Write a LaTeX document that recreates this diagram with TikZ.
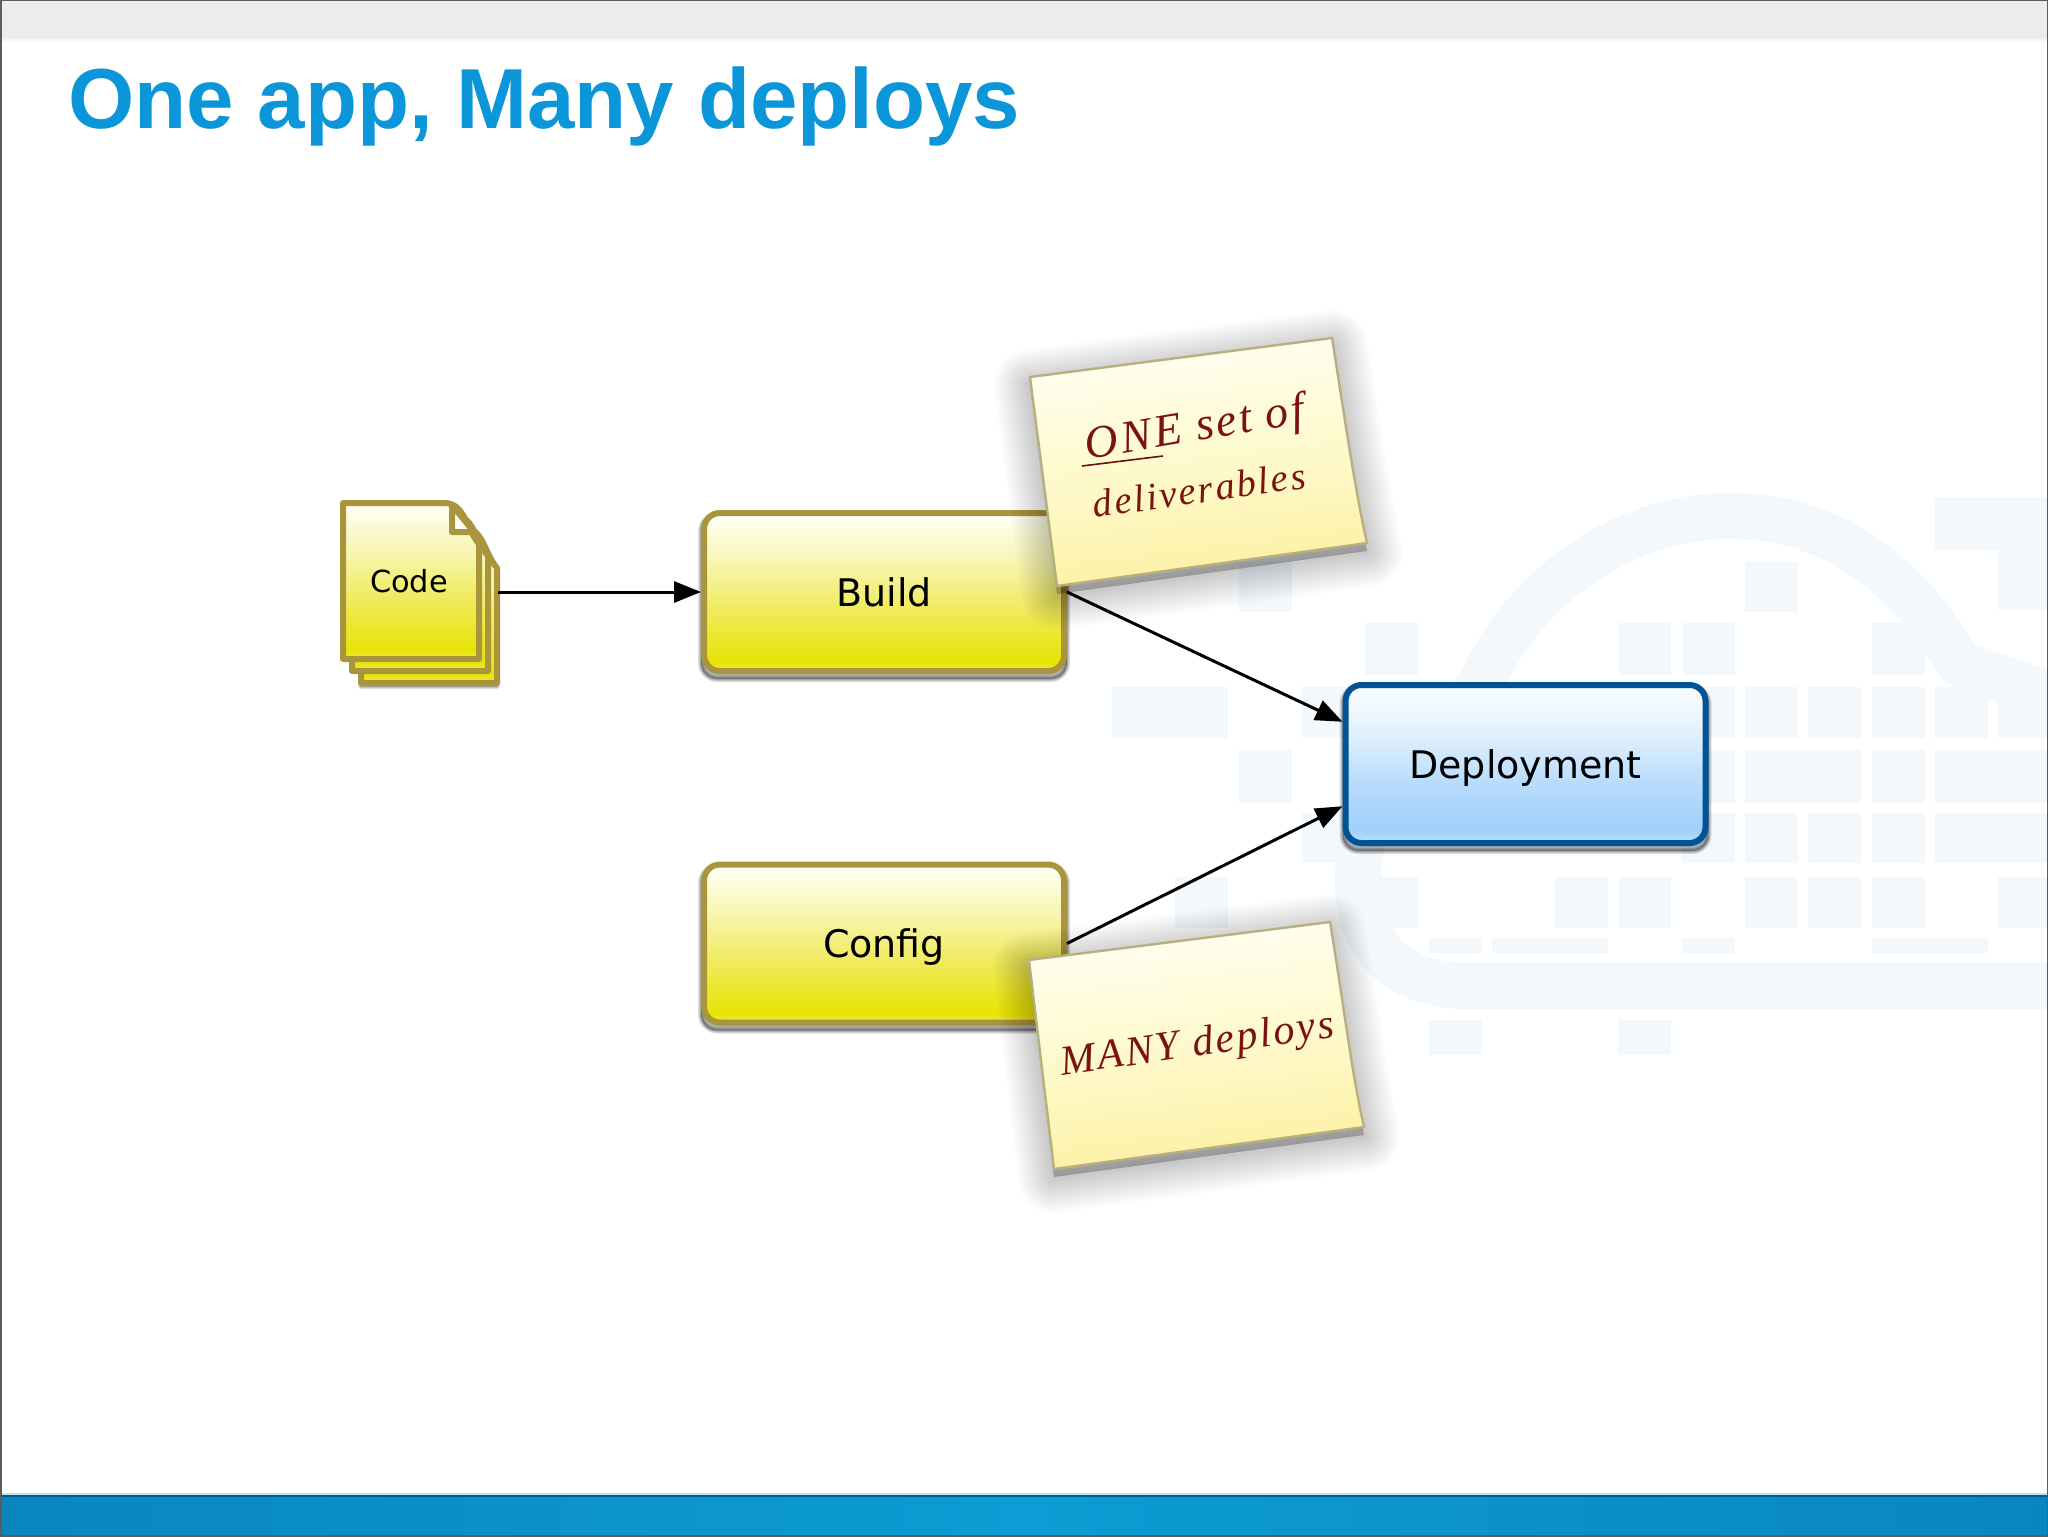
\documentclass[tikz,border=0pt]{standalone}
\usepackage{fontspec}
\setmainfont{Liberation Sans}
\newfontfamily\boxfont{DejaVu Sans}
\newfontfamily\handfont{Liberation Serif}[LetterSpace=6]
\usetikzlibrary{arrows.meta,calc}
\definecolor{titleblue}{HTML}{0A96D8}
\definecolor{olivedge}{HTML}{A8953C}
\definecolor{depedge}{HTML}{005496}
\definecolor{notedge}{HTML}{B8B07E}
\definecolor{inkred}{HTML}{7A1212}
\definecolor{tilecol}{HTML}{F3F8FC}
\definecolor{topband}{HTML}{ECECEC}
\definecolor{footblue}{HTML}{0A86BE}
\definecolor{footmid}{HTML}{0B9DD3}
\definecolor{frameline}{HTML}{5C5C5C}
\definecolor{ya}{HTML}{EEE84A}\definecolor{yb}{HTML}{E9E305}\definecolor{yc}{HTML}{F0EB60}\definecolor{yd}{HTML}{F8F6B4}\definecolor{ye}{HTML}{FFFFF8}
\definecolor{ba}{HTML}{C0E2FF}\definecolor{bb}{HTML}{9FD0FD}\definecolor{bc}{HTML}{BBDDFC}\definecolor{bd}{HTML}{E2F1FE}\definecolor{be}{HTML}{FAFDFF}
\definecolor{na}{HTML}{FCF0A0}\definecolor{nb}{HTML}{FEF8C4}\definecolor{nc}{HTML}{FFFFF4}
\pgfdeclareverticalshading{yelgrad}{100bp}{color(0bp)=(ya);color(25bp)=(ya);color(28bp)=(yb);color(45bp)=(yc);color(60bp)=(yd);color(75bp)=(ye);color(100bp)=(ye)}
\pgfdeclareverticalshading{blugrad}{100bp}{color(0bp)=(ba);color(25bp)=(ba);color(29bp)=(bb);color(45bp)=(bc);color(60bp)=(bd);color(75bp)=(be);color(100bp)=(be)}
\pgfdeclareverticalshading{notegrad}{100bp}{color(0bp)=(na);color(25bp)=(na);color(45bp)=(nb);color(75bp)=(nc);color(100bp)=(nc)}
\pgfdeclarelayer{logo}\pgfdeclarelayer{shadows}\pgfdeclarelayer{notes}
\pgfsetlayers{logo,shadows,main,notes}
\tikzset{
  flowbox/.style={rectangle,rounded corners=8pt,line width=3pt,minimum width=180pt,minimum height=79pt,inner sep=0pt,outer sep=1.5pt,text=black,font=\boxfont\fontsize{19}{22}\selectfont,text height=15pt,text depth=1pt},
  yellowbox/.style={flowbox,draw=olivedge,shading=yelgrad},
  bluebox/.style={flowbox,draw=depedge,shading=blugrad},
  pagesheet/.style={draw=olivedge,line width=3pt,line join=round,shading=yelgrad},
  flowarrow/.style={draw=black,line width=1.5pt,-{Triangle[length=13.5pt,width=10.5pt]}},
  stickynote/.style={draw=notedge,line width=1.2pt,line join=miter,shading=notegrad,shading angle=7},
  handtext/.style={text=inkred,font=\handfont\itshape,inner sep=0pt},
  tile/.style={fill=tilecol},
}
\newcommand{\softshadow}[1]{\foreach \L in {2,4,...,36}{\path[draw=black,fill=black,opacity=.011,line width=\L pt,line join=round] #1;}}
\newcommand{\boxshadow}[1]{\foreach \L in {1,2,3}{\path[draw=black,fill=black,opacity=.12,line width=\L pt,rounded corners=8pt] ([yshift=-2.5pt]#1.south west) rectangle ([yshift=-2.5pt]#1.north east);}}
\newcommand{\sheetpath}{(343,503) -- (444,503) to[out=0,in=130] (479,544) -- (479,659) -- (343,659) -- cycle}
\begin{document}
\begin{tikzpicture}[x=0.5pt,y=-0.5pt]
\useasboundingbox (0,0) rectangle (2048,1536);
\begin{pgfonlayer}{logo}
  \fill[white] (0,0) rectangle (2048,1536);
  \fill[topband] (0,0) rectangle (2048,37);
  \shade[top color=topband,bottom color=white] (0,37) rectangle (2048,43);
  % faint cloud logo
  \draw[draw=tilecol,line width=23pt,line join=round]
    (1965,672) .. controls (1900,560) and (1820,516) .. (1730,516)
    .. controls (1620,516) and (1520,590) .. (1478,690)
    .. controls (1400,760) and (1358,810) .. (1358,880)
    .. controls (1358,950) and (1400,986) .. (1470,986) -- (2048,986);
  \draw[draw=tilecol,line width=23pt] (1955,662) -- (2048,694);
  \foreach \a/\b/\t/\e in {
    2/2/562/612, 10/10/562/612,
    4/4/623/675, 8/8/623/675, 9/9/623/675, 12/12/623/675,
    0/1/687/738, 3/3/687/738, 9/9/687/738, 10/10/687/738, 11/11/687/738, 12/12/687/738, 13/13/687/738, 14/14/687/738,
    2/2/750/803, 9/9/750/803, 10/11/750/803, 12/12/750/803, 13/14/750/803,
    3/3/813/863, 9/9/813/863, 10/10/813/863, 11/11/813/863, 12/12/813/863, 13/14/813/863,
    1/1/877/928, 4/4/877/928, 7/7/877/928, 8/8/877/928, 10/10/877/928, 11/11/877/928, 12/12/877/928, 14/14/877/928,
    5/5/938/953, 6/7/938/953, 9/9/938/953, 12/13/938/953,
    5/5/1020/1055, 8/8/1020/1055,
    13/14/497/550, 14/14/550/610}
    {\fill[tile] ({1112+63.3*\a},\t) rectangle ({1112+63.3*\b+53},\e);}
  % footer and frame
  \shade[left color=footblue,right color=footblue,middle color=footmid] (0,1496) rectangle (2048,1536);
  \fill[white!70!cyan] (0,1493) rectangle (2048,1495.5);
  \fill[footblue!70!black] (0,1495) rectangle (2048,1497);
  \draw[frameline,line width=1.5pt] (0,0) rectangle (2048,1536);
\end{pgfonlayer}

\node[anchor=base west,inner sep=0pt,text=titleblue,font=\bfseries\fontsize{42.6}{50}\selectfont] (title) at (68,128) {One app, Many deploys};

% stacked code document
\node[rectangle,minimum width=79pt,minimum height=92pt,inner sep=0pt,outer sep=0pt] (codestack) at (419,592) {};
\begin{pgfonlayer}{shadows}
  \begin{scope}[shift={(18,24)}]
    \foreach \L in {1,2,3}{\path[draw=black,fill=black,opacity=.12,line width=\L pt,line join=round,shift={(0,3)}] \sheetpath;}
  \end{scope}
\end{pgfonlayer}
\begin{scope}[shift={(18,24)}]\path[pagesheet] \sheetpath;\end{scope}
\begin{scope}[shift={(9,12)}]\path[pagesheet] \sheetpath;\end{scope}
\path[pagesheet] \sheetpath;
\path[draw=olivedge,fill=white,line width=3pt,line join=round] (452,505) -- (452,532) -- (474,532) -- cycle;
\node[font=\boxfont\fontsize{15.2}{18}\selectfont,text=black,inner sep=0pt] (codelabel) at (409,581) {Code};

% flow boxes
\node[yellowbox] (build) at (884,592) {Build};
\node[yellowbox] (config) at (884,943.5) {Config};
\node[bluebox] (deploy) at (1525.5,764) {Deployment};
\begin{pgfonlayer}{shadows}
  \boxshadow{build}
  \boxshadow{config}
  \boxshadow{deploy}
\end{pgfonlayer}

% connectors
\draw[flowarrow] (codestack.east) -- (build.west);
\draw[flowarrow] (build.east) -- (deploy.167);
\draw[flowarrow] (config.east) -- (deploy.193);

% sticky notes
\begin{pgfonlayer}{notes}
  \softshadow{[shift={(0,8)}] (1030,377) -- (1332,338) .. controls (1345,420) and (1355,490) .. (1367,543) -- (1057,586) -- cycle}
  \path[stickynote] (1030,377) -- (1332,338) .. controls (1345,420) and (1355,490) .. (1367,543) -- (1057,586) -- cycle;
  \node[handtext,rotate=9.5,font=\handfont\itshape\fontsize{23}{27}\selectfont] (noteone) at (1195,430) {ONE set of};
  \node[handtext,rotate=8,font=\handfont\itshape\fontsize{19.3}{23}\selectfont] (notedeliv) at (1199,490) {deliverables};
  \coordinate (ulstart) at (1082,466);
  \coordinate (ulend) at (1163,456);
  \draw[inkred!85!black,line width=.8pt] (ulstart) -- (ulend);
  \softshadow{[shift={(0,8)}] (1029,960) -- (1330,922) .. controls (1343,1000) and (1352,1075) .. (1364,1127) -- (1054,1169) -- cycle}
  \path[stickynote] (1029,960) -- (1330,922) .. controls (1343,1000) and (1352,1075) .. (1364,1127) -- (1054,1169) -- cycle;
  \node[handtext,rotate=8,font=\handfont\itshape\fontsize{21}{25}\selectfont] (notemany) at (1198,1046) {MANY deploys};
\end{pgfonlayer}
\end{tikzpicture}
\end{document}
